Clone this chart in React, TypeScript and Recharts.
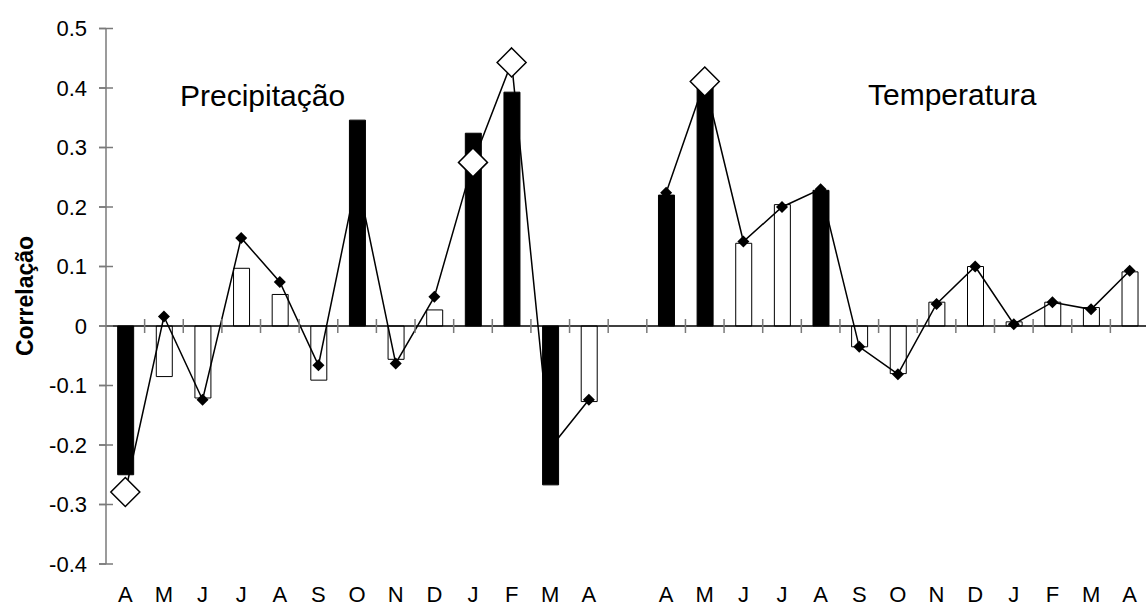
import { ComposedChart, Bar, Line, Scatter, XAxis, YAxis, Cell, ReferenceLine } from "recharts";

const months = ["A", "M", "J", "J", "A", "S", "O", "N", "D", "J", "F", "M", "A"];
// precipitação months, an empty slot, then temperatura months
const categories = [...months, "", ...months];

const barValues = [
  -0.25, -0.085, -0.121, 0.097, 0.053, -0.091, 0.346, -0.056, 0.027, 0.324, 0.393, -0.267, -0.127,
  null,
  0.22, 0.41, 0.139, 0.204, 0.228, -0.035, -0.08, 0.04, 0.1, 0.007, 0.04, 0.031, 0.091,
];

const lineValues = [
  -0.279, 0.016, -0.124, 0.148, 0.074, -0.066, 0.25, -0.063, 0.049, 0.275, 0.443, -0.205, -0.124,
  null,
  0.224, 0.411, 0.142, 0.2, 0.23, -0.035, -0.081, 0.037, 0.1, 0.003, 0.04, 0.028, 0.093,
];

// 1 = black bar, 0 = white bar
const blackBars = [1, 0, 0, 0, 0, 0, 1, 0, 0, 1, 1, 1, 0, 0, 1, 1, 0, 0, 1, 0, 0, 0, 0, 0, 0, 0, 0];
// 1 = large open diamond marker
const bigMarkers = [1, 0, 0, 0, 0, 0, 0, 0, 0, 1, 1, 0, 0, 0, 0, 1, 0, 0, 0, 0, 0, 0, 0, 0, 0, 0, 0];

const yTicks = [-0.4, -0.3, -0.2, -0.1, 0, 0.1, 0.2, 0.3, 0.4, 0.5];
const xTicks = categories.map((_, i) => i);

const data = categories.map((label, i) => ({
  idx: i,
  label,
  bar: barValues[i],
  line: lineValues[i],
  black: blackBars[i] === 1,
  big: bigMarkers[i] === 1,
}));

// cross tick marks sitting on the zero line, between categories
const tickMarkData = categories.slice(1).map((_, i) => ({ idx: i + 0.5, zero: 0 }));

const FONT = "'Liberation Sans', Arial, sans-serif";
const TICK_GRAY = "#7a7a7a";

const fmtY = (v: number) => (v === 0 ? "0" : v.toFixed(1));

function YTick(props: any) {
  const { x, y, payload } = props;
  return (
    <g>
      <line x1={x + 12} x2={x + 26} y1={y} y2={y} stroke={TICK_GRAY} strokeWidth={1.5} />
      <text x={x} y={y} dy="0.36em" textAnchor="end" fontSize={22} fontFamily={FONT} fill="#000">
        {fmtY(payload.value)}
      </text>
    </g>
  );
}

function CrossTick(props: any) {
  const { cx, cy } = props;
  if (cx == null || cy == null) return <g />;
  return <line x1={cx} x2={cx} y1={cy - 7} y2={cy + 7} stroke={TICK_GRAY} strokeWidth={1.5} />;
}

function Marker(props: any) {
  const { cx, cy, payload } = props;
  if (cx == null || cy == null || payload.line == null) return <g />;
  if (payload.big) {
    const h = 14.5;
    return (
      <polygon
        points={`${cx},${cy - h} ${cx + h},${cy} ${cx},${cy + h} ${cx - h},${cy}`}
        fill="#fff"
        stroke="#000"
        strokeWidth={1.5}
      />
    );
  }
  const h = 6;
  return (
    <polygon points={`${cx},${cy - h} ${cx + h},${cy} ${cx},${cy + h} ${cx - h},${cy}`} fill="#000" stroke="none" />
  );
}

export default function App() {
  return (
    <div
      style={{
        position: "absolute",
        left: 0,
        top: 0,
        width: 1146,
        height: 607,
        overflow: "hidden",
        background: "#fff",
      }}
    >
      <ComposedChart width={1149} height={607} data={data} margin={{ top: 28.5, right: 0, left: 0, bottom: 0 }}>
        <XAxis
          dataKey="idx"
          type="number"
          domain={[-0.5, 26.5]}
          ticks={xTicks}
          tickFormatter={(v: number) => categories[v] ?? ""}
          axisLine={false}
          tickLine={false}
          tickSize={0}
          tickMargin={22}
          height={43}
          interval={0}
          tick={{ fontSize: 22, fill: "#000", fontFamily: FONT }}
        />
        <YAxis
          type="number"
          domain={[-0.4, 0.5]}
          ticks={yTicks}
          width={106}
          axisLine={{ stroke: TICK_GRAY, strokeWidth: 1.5 }}
          tickLine={{ stroke: TICK_GRAY, strokeWidth: 1.5 }}
          tickSize={7}
          tickMargin={12}
          interval={0}
          tick={<YTick />}
        />
        <ReferenceLine y={0} stroke="#000" strokeWidth={1.5} />
        <Scatter data={tickMarkData} dataKey="zero" shape={<CrossTick />} isAnimationActive={false} />
        <Bar dataKey="bar" barSize={16} stroke="#000" strokeWidth={1} isAnimationActive={false}>
          {data.map((d, i) => (
            <Cell key={i} fill={d.black ? "#000" : "#fff"} />
          ))}
        </Bar>
        <Line
          dataKey="line"
          type="linear"
          stroke="#000"
          strokeWidth={1.5}
          dot={<Marker />}
          activeDot={false}
          connectNulls={false}
          isAnimationActive={false}
        />
      </ComposedChart>
      <svg
        width={1146}
        height={607}
        style={{ position: "absolute", left: 0, top: 0, pointerEvents: "none" }}
      >
        <text x={180} y={106} fontSize={30} fontFamily={FONT} fill="#000">
          Precipitação
        </text>
        <text x={868} y={105} fontSize={30} fontFamily={FONT} fill="#000">
          Temperatura
        </text>
        <text
          transform="translate(33, 296) rotate(-90)"
          textAnchor="middle"
          fontSize={23}
          fontWeight="bold"
          fontFamily={FONT}
          fill="#000"
        >
          Correlação
        </text>
      </svg>
    </div>
  );
}
